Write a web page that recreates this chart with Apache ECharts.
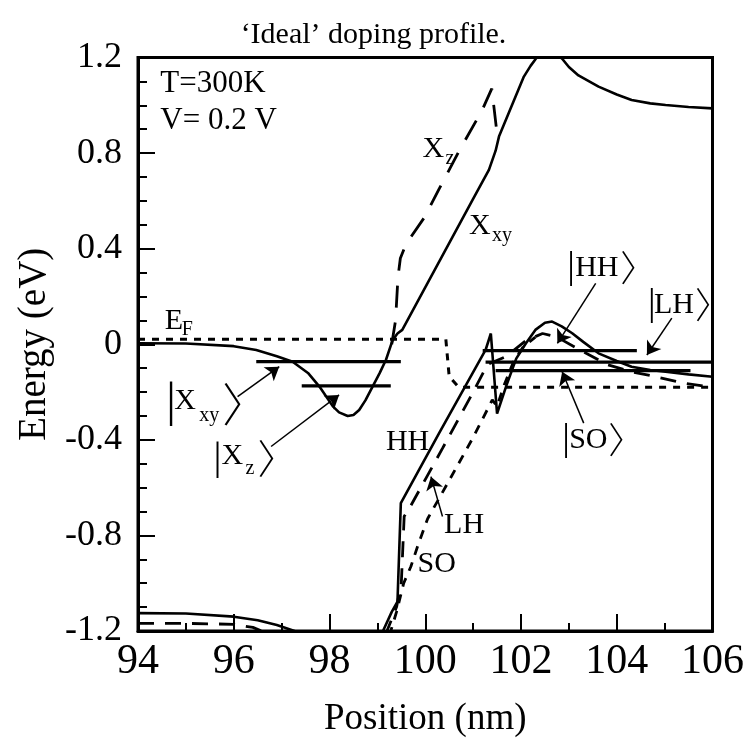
<!DOCTYPE html>
<html><head><meta charset="utf-8">
<script src="https://cdn.jsdelivr.net/npm/echarts@6/dist/echarts.min.js"></script>
<style>html,body{margin:0;padding:0;background:#fff}#c{width:747px;height:752px}</style>
</head><body><div id="c"></div>
<script>
// ---- data ----
const xTickValues = [94, 96, 98, 100, 102, 104, 106];
const yTickValues = [-1.2, -0.8, -0.4, 0, 0.4, 0.8, 1.2];

// Fermi level (dotted)
const efX = [94, 100.43, 100.5, 100.7, 106];
const efY = [0.021, 0.021, -0.135, -0.18, -0.18];

// Conduction band (Gamma well + X_xy), solid
const cbX = [94.0, 95.0, 96.0, 96.47, 96.9, 97.23, 97.55, 97.79, 98.07, 98.2, 98.38, 98.5, 98.62, 98.75, 98.9, 99.05, 99.18, 99.32, 99.42, 99.52, 100.0, 100.5, 101.0, 101.33, 101.47, 101.54, 102.06, 102.2, 102.31, 102.45, 102.6, 102.75, 102.86, 103.0, 103.2, 103.62, 104.0, 104.31, 104.7, 105.02, 105.5, 106.0];
const cbY = [0.004, 0.003, -0.008, -0.024, -0.05, -0.073, -0.12, -0.177, -0.26, -0.285, -0.30, -0.296, -0.275, -0.235, -0.177, -0.12, -0.065, 0.018, 0.045, 0.06, 0.238, 0.423, 0.608, 0.73, 0.81, 0.869, 1.12, 1.165, 1.195, 1.225, 1.235, 1.215, 1.195, 1.16, 1.125, 1.078, 1.045, 1.022, 1.008, 1.001, 0.993, 0.987];

// X_z band, dashed
const xzX = [99.30, 99.38, 99.43, 99.48, 99.6, 99.98, 100.29, 100.71, 101.19, 101.39, 101.5];
const xzY = [0.00, 0.10, 0.28, 0.36, 0.42, 0.53, 0.65, 0.81, 0.98, 1.07, 0.88];

// Heavy hole band, solid
const hhX = [94, 95, 96, 96.5, 96.9, 97.27, 97.6, 98.5, 98.9, 99.11, 99.3, 99.42, 99.49, 100.29, 101.26, 101.37, 101.5, 101.7, 101.9, 102.1, 102.3, 102.5, 102.65, 102.85, 103.07, 103.3, 103.62, 104.0, 104.31, 104.7, 105.02, 105.5, 106];
const hhY = [-1.125, -1.127, -1.14, -1.155, -1.175, -1.2, -1.25, -1.32, -1.28, -1.203, -1.12, -1.077, -0.665, -0.372, -0.024, 0.045, -0.29, -0.17, -0.06, 0.003, 0.06, 0.09, 0.095, 0.075, 0.046, 0.01, -0.038, -0.07, -0.094, -0.108, -0.115, -0.126, -0.136];

// Light hole band, dashed
const lhX = [94, 95, 96, 96.4, 96.7, 97, 98.5, 99.0, 99.2, 99.4, 99.5, 99.56, 99.67, 100.36, 101.0, 101.3, 101.7, 102.1, 102.45, 102.75, 103.2, 103.8, 104.3, 104.8, 105.4, 106];
const lhY = [-1.168, -1.168, -1.172, -1.185, -1.21, -1.26, -1.35, -1.28, -1.2, -1.1, -1.0, -0.72, -0.686, -0.436, -0.2, -0.085, -0.05, 0.015, 0.045, 0.03, -0.02, -0.085, -0.115, -0.135, -0.163, -0.18];

// Split-off band, short dashes
const soX = [99.25, 99.4, 99.55, 99.7, 99.85, 100.05, 100.5, 101.0, 101.4, 101.5, 101.65, 101.85, 102.05, 102.3];
const soY = [-1.22, -1.12, -1.0, -0.93, -0.84, -0.73, -0.57, -0.39, -0.233, -0.26, -0.17, -0.07, -0.01, 0.03];

// Bound-state energy levels
const levelStart  = [96.47, 97.42, 101.2, 101.26, 101.47];
const levelEnd    = [99.49, 99.28, 104.42, 106.0, 105.54];
const levelEnergy = [-0.073, -0.174, -0.027, -0.075, -0.11];

// ---- chart ----
const FF = "'Liberation Serif','Times New Roman',serif";
const KET = "'Noto Sans CJK JP','Noto Sans CJK SC','DejaVu Sans',sans-serif";
const zip = (a, b) => a.map((v, i) => [v, b[i]]);
const chart = echarts.init(document.getElementById('c'), null, {renderer: 'canvas'});

function lineSeries(name, data, width, type, z) {
  return {
    name, type: 'line', data, showSymbol: false, symbol: 'none', animation: false,
    clip: true, silent: true, z: z || 3,
    lineStyle: {color: '#000', width, type: type || 'solid', cap: 'butt'}
  };
}

const arrowPairs = [
  [[103.56, 0.255], [102.76, 0.004]],
  [[105.15, 0.109], [104.63, -0.045]],
  [[103.31, -0.33], [102.86, -0.115]],
  [[100.36, -0.721], [100.12, -0.554]],
  [[96.08, -0.219], [96.95, -0.094]],
  [[96.78, -0.428], [98.2, -0.212]]
];

const series = [];
for (let i = 0; i < levelEnergy.length; i++) {
  series.push(lineSeries('level' + i, [[levelStart[i], levelEnergy[i]], [levelEnd[i], levelEnergy[i]]], 3.2, 'solid', 4));
}
series.push(lineSeries('EF', zip(efX, efY), 3, [7, 7]));
series.push(lineSeries('CB', zip(cbX, cbY), 2.6));
series.push(lineSeries('Xz', zip(xzX, xzY), 2.8, [22, 15]));
const hh = lineSeries('HH', zip(hhX, hhY), 2.6);
hh.markLine = {
  silent: true, animation: false, symbol: ['none', 'arrow'], symbolSize: 13,
  label: {show: false}, emphasis: {disabled: true},
  lineStyle: {color: '#000', width: 1.5, type: 'solid'},
  data: arrowPairs.map(p => [{coord: p[0]}, {coord: p[1]}])
};
series.push(hh);
series.push(lineSeries('LH', zip(lhX, lhY), 2.8, [16, 11]));
series.push(lineSeries('SO', zip(soX, soY), 2.8, [9, 8]));

chart.setOption({
  animation: false,
  backgroundColor: '#fff',
  title: {
    text: '\u2018Ideal\u2019 doping profile.', left: 'center', top: 15,
    textStyle: {fontFamily: FF, fontSize: 30, fontWeight: 'normal', color: '#000'}
  },
  grid: {left: 138, right: 33, top: 57.5, bottom: 121, show: true, borderColor: '#000', borderWidth: 3, containLabel: false},
  xAxis: {
    type: 'value', min: 94, max: 106, interval: 2,
    axisLine: {show: true, onZero: false, lineStyle: {color: '#000', width: 3}},
    axisTick: {show: true, inside: true, length: 17, lineStyle: {color: '#000', width: 2}},
    minorTick: {show: true, splitNumber: 2, length: 8, lineStyle: {color: '#000', width: 2}},
    splitLine: {show: false}, minorSplitLine: {show: false},
    axisLabel: {fontFamily: FF, fontSize: 42, color: '#000', margin: 10,
      formatter: v => xTickValues.includes(v) ? String(v) : ''},
    name: 'Position (nm)', nameLocation: 'middle', nameGap: 70,
    nameTextStyle: {fontFamily: FF, fontSize: 37, color: '#000'}
  },
  yAxis: {
    type: 'value', min: -1.2, max: 1.2, interval: 0.4,
    axisLine: {show: true, onZero: false, lineStyle: {color: '#000', width: 3}},
    axisTick: {show: true, inside: true, length: 17, lineStyle: {color: '#000', width: 2}},
    minorTick: {show: true, splitNumber: 4, length: 9, lineStyle: {color: '#000', width: 2}},
    splitLine: {show: false}, minorSplitLine: {show: false},
    axisLabel: {fontFamily: FF, fontSize: 36, color: '#000', margin: 16,
      formatter: v => { const r = Math.round(v * 10) / 10; return yTickValues.some(t => Math.abs(t - r) < 1e-6) ? (r === 0 ? '0' : String(r)) : ''; }},
    name: 'Energy (eV)', nameLocation: 'middle', nameGap: 83,
    nameTextStyle: {fontFamily: FF, fontSize: 39, color: '#000'}
  },
  series
});

// ---- text annotations (anchored in data coordinates, parts offset in px) ----
const annotations = [
  {x: 94.467, y: 1.089, parts: [['T=300K', 0, 0, 31]]},
  {x: 94.467, y: 0.934, parts: [['V= 0.2 V', 0, 0, 31]]},
  {x: 94.557, y: 0.0975, parts: [['E', 0, 0, 30], ['F', 17, 9, 20]]},
  {x: 99.941, y: 0.817, parts: [['X', 0, 0, 30], ['z', 23, 10, 20]]},
  {x: 100.915, y: 0.495, parts: [['X', 0, 0, 30], ['xy', 23, 10, 20]]},
  {x: 102.964, y: 0.318, parts: [['|', 0, 0, 38], ['HH', 8, 0, 30], ['\u3009', 53, 0, 36, 1]]},
  {x: 104.652, y: 0.164, parts: [['|', 0, 0, 38], ['LH', 6, 0, 30], ['\u3009', 47, 0, 36, 1]]},
  {x: 102.86, y: -0.40, parts: [['|', 0, 0, 38], ['SO', 7, 0, 30], ['\u3009', 46, 0, 36, 1]]},
  {x: 99.178, y: -0.408, parts: [['HH', 0, 0, 30]]},
  {x: 100.394, y: -0.756, parts: [['LH', 0, 0, 30]]},
  {x: 99.837, y: -0.919, parts: [['SO', 0, 0, 30]]},
  {x: 94.592, y: -0.236, parts: [['|', 0, 3, 48], ['X', 8, 0, 30], ['xy', 33, 15, 20], ['\u3009', 56, 3, 46, 1]]},
  {x: 95.578, y: -0.470, parts: [['|', 0, 2, 40], ['X', 8, 0, 30], ['z', 32, 12, 20], ['\u3009', 44, 2, 40, 1]]}
];

const graphics = [];
annotations.forEach(a => {
  const p = chart.convertToPixel({gridIndex: 0}, [a.x, a.y]);
  a.parts.forEach(([t, dx, dy, fs, ket]) => {
    graphics.push({
      type: 'text', silent: true, x: p[0] + dx, y: p[1] + dy, z: 10,
      style: {text: t, fontFamily: ket ? KET : FF, fontWeight: ket ? 300 : 'normal', fontSize: fs, fill: '#000',
        textAlign: 'left', textVerticalAlign: 'middle', align: 'left', verticalAlign: 'middle'}
    });
  });
});
chart.setOption({graphic: graphics});
</script>
</body></html>
